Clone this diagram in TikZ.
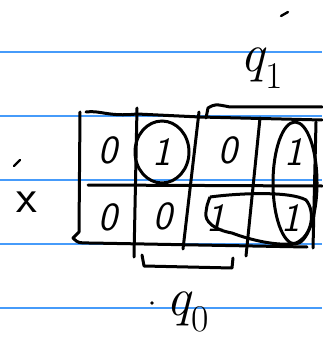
\documentclass[tikz,border=0pt]{standalone}
\usepackage{fontspec}
\usepackage{tikz}
\usepackage{xcolor}
\usetikzlibrary{positioning, calc}
\definecolor{ruleBlue}{RGB}{70,155,250}
\tikzset{
    ruleLine/.style={draw=ruleBlue, line width=1.3pt},
    gridLine/.style={draw=black, line width=3pt, line cap=round, line join=round},
    groupLoop/.style={draw=black, line width=3pt},
    kmCell/.style={inner sep=0pt, font=\fontsize{40}{40}\selectfont\sffamily\itshape},
    kmLabel/.style={inner sep=0pt, font=\fontsize{54}{54}\selectfont\itshape}
}

\begin{document}
\begin{tikzpicture}[x=1pt, y=-1pt]
    \useasboundingbox (0,0) rectangle (322,339);
    \foreach \ry in {52,116,180,244,308}
        \draw[ruleLine] (0,\ry)--(322,\ry);
    \node[kmCell] (c11) at (108,150) {0};
    \node[kmCell] (c12) at (162,152) {1};
    \node[kmCell] (c13) at (228,150) {0};
    \node[kmCell] (c14) at (294,152) {1};
    \node[kmCell] (c21) at (108,217) {0};
    \node[kmCell] (c22) at (163,216) {0};
    \node[kmCell] (c23) at (216,218) {1};
    \node[kmCell] (c24) at (291,218) {1};
    \draw[gridLine] (86,112) .. controls (100,110) and (108,117) .. (137,114) -- (200,117) -- (322,120);
    \draw[gridLine] (88,185) -- (322,186);
    \draw[gridLine] (80,112) -- (79,232) -- (73,238) .. controls (78,243) .. (90,243) -- (307,247);
    \draw[gridLine] (137,108) -- (134,257);
    \draw[gridLine] (199,112) -- (183,249);
    \draw[gridLine] (260,118) -- (246,256);
    \draw[gridLine] (316,122) -- (313,248);
    \draw[groupLoop] (c12) ellipse [x radius=27pt, y radius=31pt];
    \draw[groupLoop] (295,183) ellipse [x radius=22pt, y radius=61pt];
    \draw[groupLoop] (210,197) .. controls (240,193) and (290,191) .. (306,200)
        .. controls (316,212) and (312,236) .. (296,243)
        .. controls (280,247) and (250,240) .. (232,233)
        .. controls (215,230) and (204,222) .. (206,212)
        .. controls (207,205) .. (210,197);
    \draw[gridLine] (206,118) -- (208,108) .. controls (215,104) .. (230,107) -- (322,107);
    \draw[gridLine] (142,255) -- (144,266) -- (232,268) -- (233,258);
    \node[kmLabel] (q1) at (262,68) {q\textsubscript{\upshape 1}};
    \node[kmLabel] (q0) at (188,312) {q\textsubscript{\upshape 0}};
    \node[kmLabel, font=\fontsize{48}{48}\selectfont\sffamily\upshape] (xin) at (27,202) {x};
    \draw[gridLine, line width=2.4pt] (281,16)--(288,12);
    \draw[gridLine, line width=2.4pt] (14,166)--(20,160);
    \fill (152,303) circle (1.8pt);
\end{tikzpicture}
\end{document}
